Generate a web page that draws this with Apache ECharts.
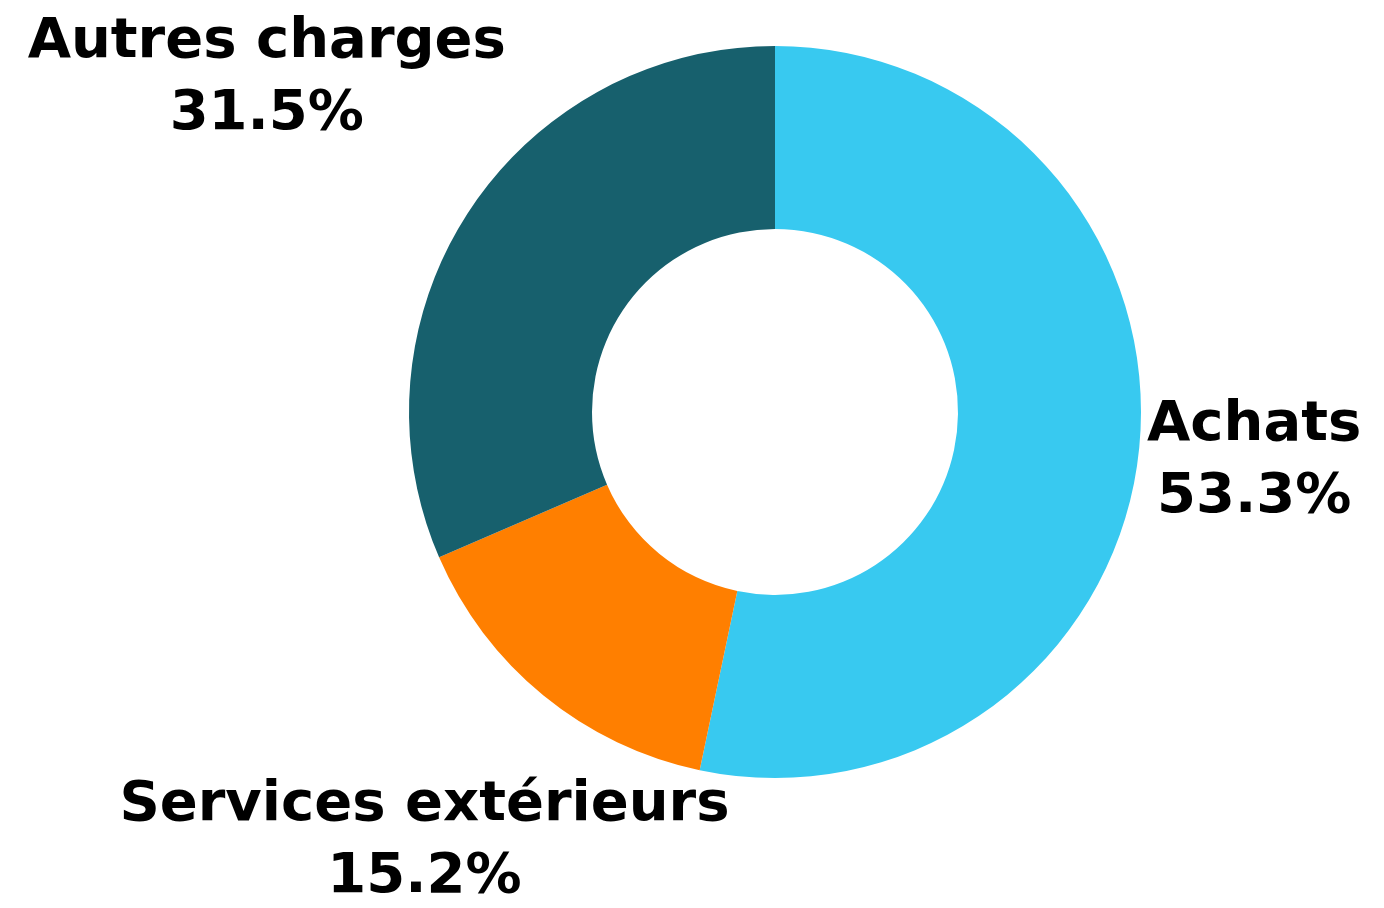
<!DOCTYPE html>
<html>
<head>
<meta charset="utf-8">
<script src="https://cdn.jsdelivr.net/npm/echarts@6/dist/echarts.min.js"></script>
<style>
html,body{margin:0;padding:0;background:#fff;}
#chart{width:1384px;height:908px;}
</style>
</head>
<body>
<div id="chart"></div>
<script>
const categories = ['Achats', 'Services extérieurs', 'Autres charges'];
const values = [53.3, 15.2, 31.5];
const colors = ['#38C9F0', '#FF7F00', '#17606D'];

const CX = 775, CY = 412, R_IN = 183, R_OUT = 366, GAP = 6, PAD_TOP = 12, PAD_BOTTOM = -5;
const total = values.reduce((a, b) => a + b, 0);

function midDir(i) {
  let cum = 0;
  for (let k = 0; k < i; k++) cum += values[k];
  const a = (cum + values[i] / 2) / total * Math.PI * 2;
  return [Math.sin(a), -Math.cos(a)];
}

// distance from pie centre to a box centred at (cx, cy)
function boxDist(cx, cy, w, h) {
  const x0 = cx - w / 2, x1 = cx + w / 2;
  const y0 = cy - h / 2 + PAD_TOP, y1 = cy + h / 2 - PAD_BOTTOM;
  const dx = Math.max(x0, 0, -x1);
  const dy = Math.max(y0, 0, -y1);
  return Math.hypot(dx, dy);
}

const chart = echarts.init(document.getElementById('chart'), null, {renderer: 'canvas'});
chart.setOption({
  backgroundColor: '#ffffff',
  animation: false,
  series: [{
    type: 'pie',
    center: [CX, CY],
    radius: [R_IN, R_OUT],
    startAngle: 90,
    clockwise: true,
    avoidLabelOverlap: false,
    itemStyle: {borderWidth: 0},
    label: {
      show: true,
      position: 'outside',
      formatter: p => p.name + '\n' + p.value.toFixed(1) + '%',
      fontFamily: 'DejaVu Sans',
      fontWeight: 'bold',
      fontSize: 56,
      lineHeight: 72,
      color: '#000000',
      align: 'center'
    },
    labelLine: {show: false, length: 0, length2: 0},
    labelLayout: function (params) {
      const u = midDir(params.dataIndex);
      const w = params.labelRect.width, h = params.labelRect.height;
      let lo = 0, hi = 3000;
      for (let it = 0; it < 60; it++) {
        const t = (lo + hi) / 2;
        if (boxDist(t * u[0], t * u[1], w, h) < R_OUT + GAP) lo = t; else hi = t;
      }
      const t = (lo + hi) / 2;
      return {x: CX + t * u[0], y: CY + t * u[1], align: 'center', verticalAlign: 'middle'};
    },
    data: categories.map((c, i) => ({name: c, value: values[i], itemStyle: {color: colors[i]}}))
  }]
});
</script>
</body>
</html>
